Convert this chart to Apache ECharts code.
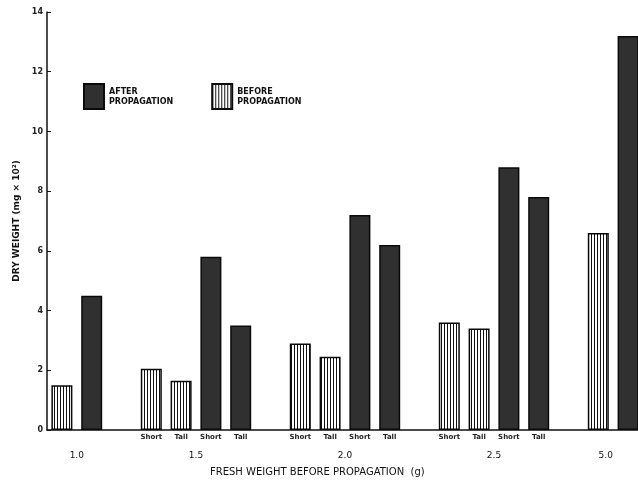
<!DOCTYPE html>
<html><head><meta charset="utf-8">
<script src="https://cdn.jsdelivr.net/npm/echarts@6/dist/echarts.min.js"></script>
<style>html,body{margin:0;padding:0;background:#fff}#c{width:638px;height:483px}</style>
</head><body><div id="c"></div>
<script>
// Slots along the x axis (empty strings are gaps between groups)
const slotLabels = ['', '', '', 'Short', 'Tall', 'Short', 'Tall', '', 'Short', 'Tall', 'Short', 'Tall', '', 'Short', 'Tall', 'Short', 'Tall', '', '', ''];
const beforeValues = [1.5, '-', '-', 2.05, 1.65, '-', '-', '-', 2.9, 2.45, '-', '-', '-', 3.6, 3.4, '-', '-', '-', 6.6, '-'];
const afterValues = ['-', 4.5, '-', '-', '-', 5.8, 3.5, '-', '-', '-', 7.2, 6.2, '-', '-', '-', 8.8, 7.8, '-', '-', 13.2];
const groupLabels = ['1.0', '1.5', '2.0', '2.5', '5.0'];
const groupSlots = [0.5, 4.5, 9.5, 14.5, 18.25];
const yTicks = [0, 2, 4, 6, 8, 10, 12, 14];

const pc = document.createElement('canvas');
pc.width = 3; pc.height = 8;
const g = pc.getContext('2d');
g.fillStyle = '#fff'; g.fillRect(0, 0, 3, 8);
g.fillStyle = '#111'; g.fillRect(0, 0, 1, 8);

const FONT = 'DejaVu Sans';
const chart = echarts.init(document.getElementById('c'));
chart.setOption({
  animation: false,
  backgroundColor: '#fff',
  title: {
    text: 'FRESH WEIGHT BEFORE PROPAGATION  (g)',
    left: 205, top: 462,
    textStyle: { fontFamily: FONT, fontSize: 10, fontWeight: 'normal', color: '#111' }
  },
  legend: {
    left: 83, top: 83, padding: 0,
    icon: 'rect',
    itemWidth: 20, itemHeight: 25, itemGap: 38,
    data: ['AFTER PROPAGATION', 'BEFORE PROPAGATION'],
    formatter: n => n.replace(' ', '\n'),
    textStyle: { fontFamily: FONT, fontSize: 8, fontWeight: 'bold', color: '#111', lineHeight: 10 }
  },
  grid: { left: 47, right: -5, top: 12, bottom: 53, containLabel: false, outerBoundsMode: 'none' },
  xAxis: [{
    type: 'category',
    data: slotLabels,
    axisLine: { lineStyle: { color: '#111', width: 1.5 } },
    axisTick: { show: false },
    axisLabel: { interval: 0, margin: 4, fontFamily: FONT, fontSize: 7, fontWeight: 'bold', color: '#222' }
  }, {
    type: 'value',
    position: 'bottom',
    min: -0.5, max: 19.5, interval: 0.25,
    offset: 13,
    axisLine: { show: false }, axisTick: { show: false }, splitLine: { show: false },
    axisLabel: {
      fontFamily: FONT, fontSize: 9, color: '#111', showMinLabel: true, showMaxLabel: true,
      formatter: v => { const i = groupSlots.findIndex(s => Math.abs(s - v) < 1e-6); return i >= 0 ? groupLabels[i] : ''; }
    }
  }],
  yAxis: {
    type: 'value', min: yTicks[0], max: yTicks[yTicks.length - 1], interval: 2,
    name: 'DRY WEIGHT (mg × 10²)', nameLocation: 'middle', nameGap: 26,
    nameTextStyle: { fontFamily: FONT, fontSize: 9, fontWeight: 'bold', color: '#111' },
    axisLine: { show: true, onZero: false, lineStyle: { color: '#111', width: 1.5 } },
    axisTick: { show: true, inside: true, length: 4, lineStyle: { color: '#111' } },
    axisLabel: { margin: 4, fontFamily: FONT, fontSize: 8, fontWeight: 'bold', color: '#222' },
    splitLine: { show: false }
  },
  series: [{
    name: 'AFTER PROPAGATION', type: 'bar', data: afterValues,
    barWidth: 21, barGap: '-100%',
    itemStyle: { color: '#303030', borderColor: '#0a0a0a', borderWidth: 1.5 }
  }, {
    name: 'BEFORE PROPAGATION', type: 'bar', data: beforeValues,
    barWidth: 21, barGap: '-100%',
    itemStyle: { color: { image: pc, repeat: 'repeat' }, borderColor: '#0a0a0a', borderWidth: 1.5 }
  }]
});
</script></body></html>
